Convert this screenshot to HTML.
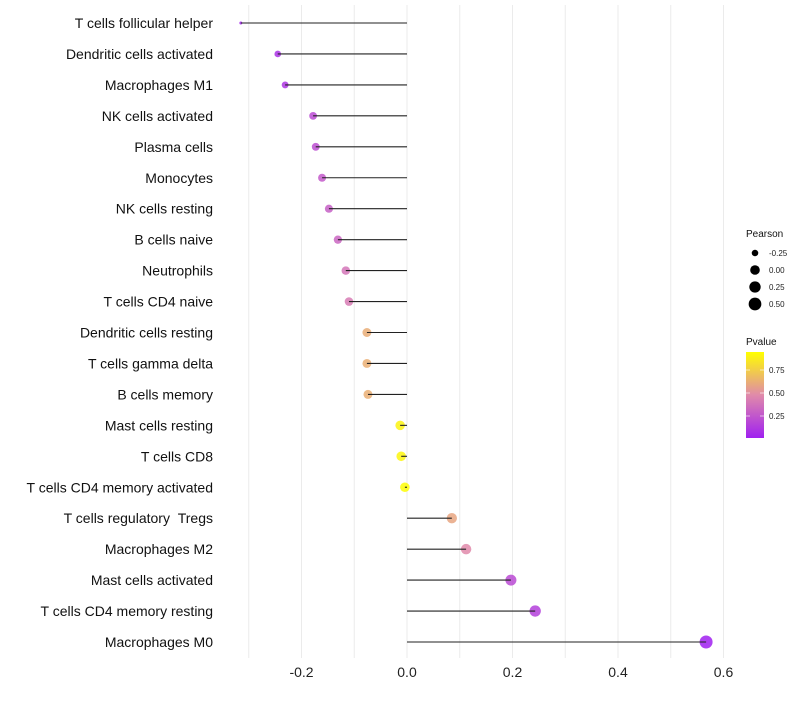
<!DOCTYPE html>
<html><head><meta charset="utf-8"><style>
body{margin:0;background:#fff;font-family:"Liberation Sans",sans-serif}
</style></head><body>
<svg id="chart" width="800" height="700" xmlns="http://www.w3.org/2000/svg" font-family="Liberation Sans, sans-serif">
<defs><linearGradient id="pg" x1="0" y1="1" x2="0" y2="0">
<stop offset="0" stop-color="#A020F0"/><stop offset="0.5" stop-color="#E08AAA"/><stop offset="1" stop-color="#FFFF00"/></linearGradient></defs>
<g id="grid"></g><g id="marks"></g><g id="labels"></g><g id="legend"></g>
</svg>
<script>
const categories=["T cells follicular helper","Dendritic cells activated","Macrophages M1","NK cells activated","Plasma cells","Monocytes","NK cells resting","B cells naive","Neutrophils","T cells CD4 naive","Dendritic cells resting","T cells gamma delta","B cells memory","Mast cells resting","T cells CD8","T cells CD4 memory activated","T cells regulatory \u00a0Tregs","Macrophages M2","Mast cells activated","T cells CD4 memory resting","Macrophages M0"];
const pearson=[-0.315,-0.245,-0.231,-0.178,-0.173,-0.161,-0.148,-0.131,-0.116,-0.110,-0.076,-0.076,-0.074,-0.013,-0.011,-0.004,0.085,0.112,0.197,0.243,0.567];
const pvalue=[0.02,0.08,0.1,0.2,0.22,0.27,0.3,0.33,0.4,0.43,0.65,0.66,0.66,0.95,0.96,0.99,0.62,0.5,0.2,0.15,0.0];
const xTicks=[-0.2,0,0.2,0.4,0.6];
const xTickLabels=["-0.2","0.0","0.2","0.4","0.6"];
const xGrid=[-0.3,-0.2,-0.1,0,0.1,0.2,0.3,0.4,0.5,0.6];
const sizeLegend=[-0.25,0,0.25,0.5];
const sizeLegendLabels=["-0.25","0.00","0.25","0.50"];
const colorTicks=[0.75,0.5,0.25];

const NS="http://www.w3.org/2000/svg";
const x=v=>407+v*527.5;
const y=i=>23+i*30.95;
const r=v=>1.5+5*Math.pow(Math.max(0,(v+0.315)/0.882),0.4);
function lerp(a,b,t){return a.map((c,k)=>Math.round(c+(b[k]-c)*t));}
function col(p){const A=[160,32,240],M=[224,138,170],B=[255,255,0];
 const c=p<0.5?lerp(A,M,p/0.5):lerp(M,B,(p-0.5)/0.5);return `rgb(${c})`;}
function mk(tag,attrs,parent,text){const e=document.createElementNS(NS,tag);for(const k in attrs)e.setAttribute(k,attrs[k]);if(text!==undefined)e.textContent=text;parent.appendChild(e);return e;}
const G=document.getElementById('grid'),M=document.getElementById('marks'),L=document.getElementById('labels'),LG=document.getElementById('legend');
xGrid.forEach(v=>{const l=mk('line',{x1:x(v),x2:x(v),y1:5,y2:658,stroke:'#ebebeb','stroke-width':1},G);

});
xTicks.forEach((v,i)=>{const t=mk('text',{x:x(v),y:677,'text-anchor':'middle','font-size':14,fill:'#222'},L,xTickLabels[i]);

});
categories.forEach((c,i)=>{
 const t=mk('text',{x:213,y:y(i)+5,'text-anchor':'end','font-size':14,fill:'#111'},L,c);
 
 
 const d=mk('circle',{cx:x(pearson[i]),cy:y(i),r:r(pearson[i]),fill:col(pvalue[i]),'fill-opacity':0.85},M);
 
 
 const s=mk('line',{x1:x(pearson[i]),x2:x(0),y1:y(i),y2:y(i),stroke:'#222','stroke-width':1.1},M);
 
 
});
let t=mk('text',{x:746,y:237,'font-size':10,fill:'#111'},LG,'Pearson');


sizeLegend.forEach((v,i)=>{const cy=253+i*17;
 const c=mk('circle',{cx:755,cy:cy,r:r(v),fill:'#000'},LG);
 
 
 const tt=mk('text',{x:769,y:cy+3,'font-size':8,fill:'#222'},LG,sizeLegendLabels[i]);
 
 });
t=mk('text',{x:746,y:345,'font-size':10,fill:'#111'},LG,'Pvalue');


const bar=mk('rect',{x:746,y:352,width:18,height:86,fill:'url(#pg)'},LG);


colorTicks.forEach(v=>{const cy=439-v*92;
 mk('line',{x1:746,x2:750,y1:cy,y2:cy,stroke:'#fff','stroke-width':0.6},LG);
 mk('line',{x1:760,x2:764,y1:cy,y2:cy,stroke:'#fff','stroke-width':0.6},LG);
 const tt=mk('text',{x:769,y:cy+3,'font-size':8,fill:'#222'},LG,v.toFixed(2));
 
 });
</script>
</body></html>
